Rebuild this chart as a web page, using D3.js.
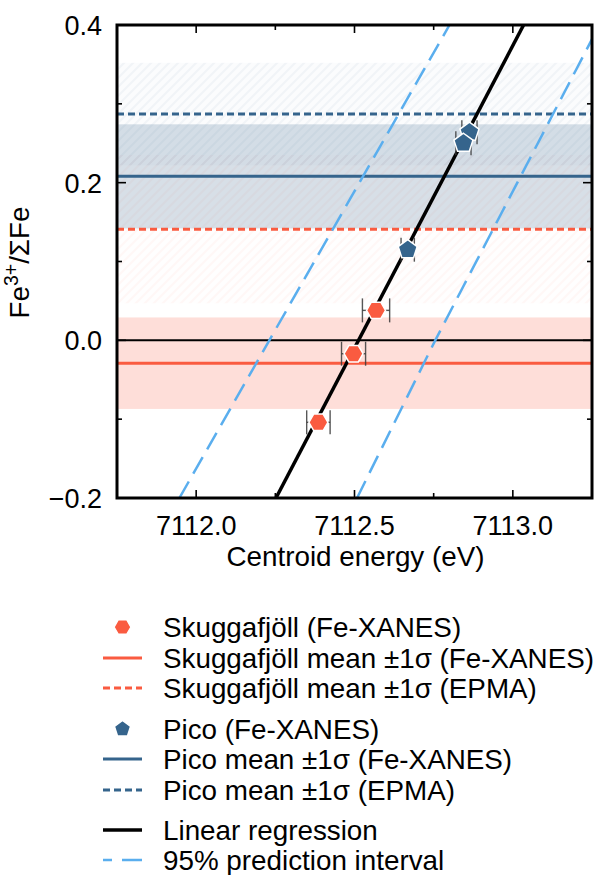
<!DOCTYPE html>
<html>
<head>
<meta charset="utf-8">
<script src="https://cdn.jsdelivr.net/npm/d3@7"></script>
<style>
  body { margin: 0; background: #fff; }
  text { font-family: "Liberation Sans", Arial, sans-serif; fill: #000; }
</style>
</head>
<body>
<div id="chart"></div>
<script>
// measured points (Fe-XANES centroid vs Fe3+/sumFe)
const skEnergy = [7112.568, 7112.497, 7112.386];
const skFe = [0.038, -0.017, -0.104];
const skErr = [0.043, 0.038, 0.037];

const picoEnergy = [7112.863, 7112.844, 7112.668];
const picoFe = [0.264, 0.250, 0.115];
const picoErr = [0.024, 0.024, 0.021];

// mean +-1 sigma bands
const bandNames = ["skEpma", "picoEpma", "skXanes", "picoXanes"];
const bandMean = [0.141, 0.287, -0.029, 0.208];
const bandSd = [0.094, 0.065, 0.058, 0.066];

// regression and prediction interval
const regEnergy = [7112.252, 7113.034];
const regFe = [-0.2, 0.4];
const piUpperEnergy = [7111.947, 7112.231, 7112.800];
const piUpperFe = [-0.2, 0.0, 0.4];
const piLowerEnergy = [7112.508, 7112.755, 7113.25];
const piLowerFe = [-0.2, 0.0, 0.382];

const xTicks = [7112.0, 7112.5, 7113.0];
const xMinor = [7112.25, 7112.75];
const yTicks = [-0.2, 0.0, 0.2, 0.4];
const yMinor = [-0.1, 0.1, 0.3];

const legendLabels = [
  "Skuggafjöll (Fe-XANES)",
  "Skuggafjöll mean ±1σ (Fe-XANES)",
  "Skuggafjöll mean ±1σ (EPMA)",
  "Pico (Fe-XANES)",
  "Pico mean ±1σ (Fe-XANES)",
  "Pico mean ±1σ (EPMA)",
  "Linear regression",
  "95% prediction interval"
];

const red = "#fa5b40";
const blue = "#35648c";
const light = "#5aaeee";
const fs = 27;     // tick labels
const fsL = 27.8;  // axis titles and legend

margin = {top: 25, left: 117, right: 3, bottom: 377};
let width = 595 - margin.left - margin.right;
let height = 875 - margin.top - margin.bottom;

const svg = d3.select("#chart").append("svg")
  .attr("width", 595)
  .attr("height", 875);

const defs = svg.append("defs");
defs.append("clipPath").attr("id", "clip")
  .append("rect").attr("width", width).attr("height", height);

function hatch(id, color, bgOp, lineOp) {
  let p = defs.append("pattern")
    .attr("id", id)
    .attr("patternUnits", "userSpaceOnUse")
    .attr("width", 9).attr("height", 9);
  p.append("rect").attr("width", 9).attr("height", 9)
    .attr("fill", color).attr("fill-opacity", bgOp);
  p.append("path")
    .attr("d", "M-2,2 L2,-2 M0,9 L9,0 M7,11 L11,7")
    .attr("stroke", color).attr("stroke-opacity", lineOp)
    .attr("stroke-width", 2.2);
}
hatch("hatchRed", red, 0.008, 0.045);
hatch("hatchBlue", blue, 0.02, 0.05);

const g = svg.append("g").attr("transform", `translate(${margin.left},${margin.top})`);

const x = d3.scaleLinear().domain([7111.75, 7113.25]).range([0, width]);
const y = d3.scaleLinear().domain([-0.2, 0.4]).range([height, 0]);

const plot = g.append("g").attr("clip-path", "url(#clip)");

// bands: hatched EPMA ones first, then the solid XANES ones
const bandFill = {
  skXanes: {fill: red, opacity: 0.2},
  picoXanes: {fill: blue, opacity: 0.2},
  skEpma: {fill: "url(#hatchRed)", opacity: 1},
  picoEpma: {fill: "url(#hatchBlue)", opacity: 1}
};
bandNames.forEach((name, i) => {
  plot.append("rect")
    .attr("x", 0)
    .attr("width", width)
    .attr("y", y(bandMean[i] + bandSd[i]))
    .attr("height", y(bandMean[i] - bandSd[i]) - y(bandMean[i] + bandSd[i]))
    .attr("fill", bandFill[name].fill)
    .attr("fill-opacity", bandFill[name].opacity);
});

// zero line
plot.append("line")
  .attr("x1", 0).attr("x2", width)
  .attr("y1", y(0)).attr("y2", y(0))
  .attr("stroke", "#000").attr("stroke-width", 2);

// mean lines
const meanStyle = {
  skXanes: {color: red, dash: null},
  skEpma: {color: red, dash: "7,4"},
  picoXanes: {color: blue, dash: null},
  picoEpma: {color: blue, dash: "7,4"}
};
bandNames.forEach((name, i) => {
  plot.append("line")
    .attr("x1", 0).attr("x2", width)
    .attr("y1", y(bandMean[i])).attr("y2", y(bandMean[i]))
    .attr("stroke", meanStyle[name].color)
    .attr("stroke-width", 3)
    .attr("stroke-dasharray", meanStyle[name].dash);
});

const line = d3.line().x(d => x(d[0])).y(d => y(d[1]));

plot.append("path")
  .attr("d", line(d3.zip(piUpperEnergy, piUpperFe)))
  .attr("fill", "none").attr("stroke", light)
  .attr("stroke-width", 2.5).attr("stroke-dasharray", "19,9");
plot.append("path")
  .attr("d", line(d3.zip(piLowerEnergy, piLowerFe)))
  .attr("fill", "none").attr("stroke", light)
  .attr("stroke-width", 2.5).attr("stroke-dasharray", "19,9");

plot.append("path")
  .attr("d", line(d3.zip(regEnergy, regFe)))
  .attr("fill", "none").attr("stroke", "#000")
  .attr("stroke-width", 3.5);

// marker shapes
function polygon(n, r, start) {
  let pts = d3.range(n).map(k => {
    let a = start + k * 2 * Math.PI / n;
    return [r * Math.cos(a), r * Math.sin(a)];
  });
  return "M" + pts.map(p => p.join(",")).join("L") + "Z";
}
const hexPath = polygon(6, 9.5, 0);
const pentPath = polygon(5, 10, -Math.PI / 2);

function drawPoints(es, vals, errs, path, color) {
  es.forEach((e, i) => {
    let cy = y(vals[i]);
    let eb = plot.append("g")
      .attr("stroke", "#3a3a3a").attr("stroke-opacity", 0.85).attr("stroke-width", 1.4);
    eb.append("line")
      .attr("x1", x(e - errs[i])).attr("x2", x(e + errs[i]))
      .attr("y1", cy).attr("y2", cy);
    [e - errs[i], e + errs[i]].forEach(v => {
      eb.append("line")
        .attr("x1", x(v)).attr("x2", x(v))
        .attr("y1", cy - 12).attr("y2", cy + 12);
    });
  });
  es.forEach((e, i) => {
    plot.append("path")
      .attr("d", path)
      .attr("transform", `translate(${x(e)},${y(vals[i])})`)
      .attr("fill", color)
      .attr("stroke", "#fff").attr("stroke-width", 1.5);
  });
}
drawPoints(skEnergy, skFe, skErr, hexPath, red);
drawPoints(picoEnergy, picoFe, picoErr, pentPath, blue);

// frame and ticks
g.append("rect")
  .attr("width", width).attr("height", height)
  .attr("fill", "none").attr("stroke", "#000").attr("stroke-width", 3);

const ticks = g.append("g").attr("stroke", "#000").attr("stroke-width", 1.6);
function xTick(v, len) {
  ticks.append("line").attr("x1", x(v)).attr("x2", x(v)).attr("y1", height).attr("y2", height - len);
  ticks.append("line").attr("x1", x(v)).attr("x2", x(v)).attr("y1", 0).attr("y2", len);
}
function yTick(v, len) {
  ticks.append("line").attr("y1", y(v)).attr("y2", y(v)).attr("x1", 0).attr("x2", len);
  ticks.append("line").attr("y1", y(v)).attr("y2", y(v)).attr("x1", width).attr("x2", width - len);
}
xTicks.forEach(v => xTick(v, 8));
xMinor.forEach(v => xTick(v, 5));
yTicks.forEach(v => yTick(v, 9));
yMinor.forEach(v => yTick(v, 5));

g.selectAll(".xlab").data(xTicks).enter().append("text")
  .attr("x", d => x(d)).attr("y", height + 37)
  .attr("text-anchor", "middle").attr("font-size", fs)
  .text(d => d.toFixed(1));

g.selectAll(".ylab").data(yTicks).enter().append("text")
  .attr("x", -15).attr("y", d => y(d) + 10)
  .attr("text-anchor", "end").attr("font-size", fs)
  .text(d => d3.format(".1f")(d).replace("-", "−"));

g.append("text")
  .attr("x", width / 2 + 1).attr("y", height + 68)
  .attr("text-anchor", "middle").attr("font-size", fsL)
  .text("Centroid energy (eV)");

let yl = g.append("text")
  .attr("transform", `translate(${-88},${height / 2 + 1}) rotate(-90)`)
  .attr("text-anchor", "middle").attr("font-size", fsL);
yl.append("tspan").text("Fe");
yl.append("tspan").attr("font-size", fsL * 0.7).attr("dy", -11).text("3+");
yl.append("tspan").attr("dy", 11).text("/ΣFe");

// legend
const legY = [627, 658, 688, 729, 759, 790, 830, 860];
const legend = svg.append("g");
const lx0 = 103, lx1 = 142, lxm = 122.5, tx = 163;
const styles = {1: [red, null, 3], 2: [red, "7,4", 3], 4: [blue, null, 3], 5: [blue, "7,4", 3],
                6: ["#000", null, 3.5], 7: [light, "9,10,20,10", 2.5]};
legendLabels.forEach((label, i) => {
  let yy = legY[i];
  if (i == 0) {
    legend.append("path").attr("d", polygon(6, 8.5, 0))
      .attr("transform", `translate(${lxm},${yy})`).attr("fill", red)
      .attr("stroke", "#fff").attr("stroke-width", 1.5);
  } else if (i == 3) {
    legend.append("path").attr("d", polygon(5, 8.5, -Math.PI / 2))
      .attr("transform", `translate(${lxm},${yy})`).attr("fill", blue)
      .attr("stroke", "#fff").attr("stroke-width", 1.5);
  } else {
    let s = styles[i];
    legend.append("line")
      .attr("x1", lx0).attr("x2", lx1).attr("y1", yy).attr("y2", yy)
      .attr("stroke", s[0]).attr("stroke-width", s[2])
      .attr("stroke-dasharray", s[1]);
  }
  legend.append("text")
    .attr("x", tx).attr("y", yy + 10)
    .attr("font-size", fsL)
    .text(label);
});
</script>
</body>
</html>
